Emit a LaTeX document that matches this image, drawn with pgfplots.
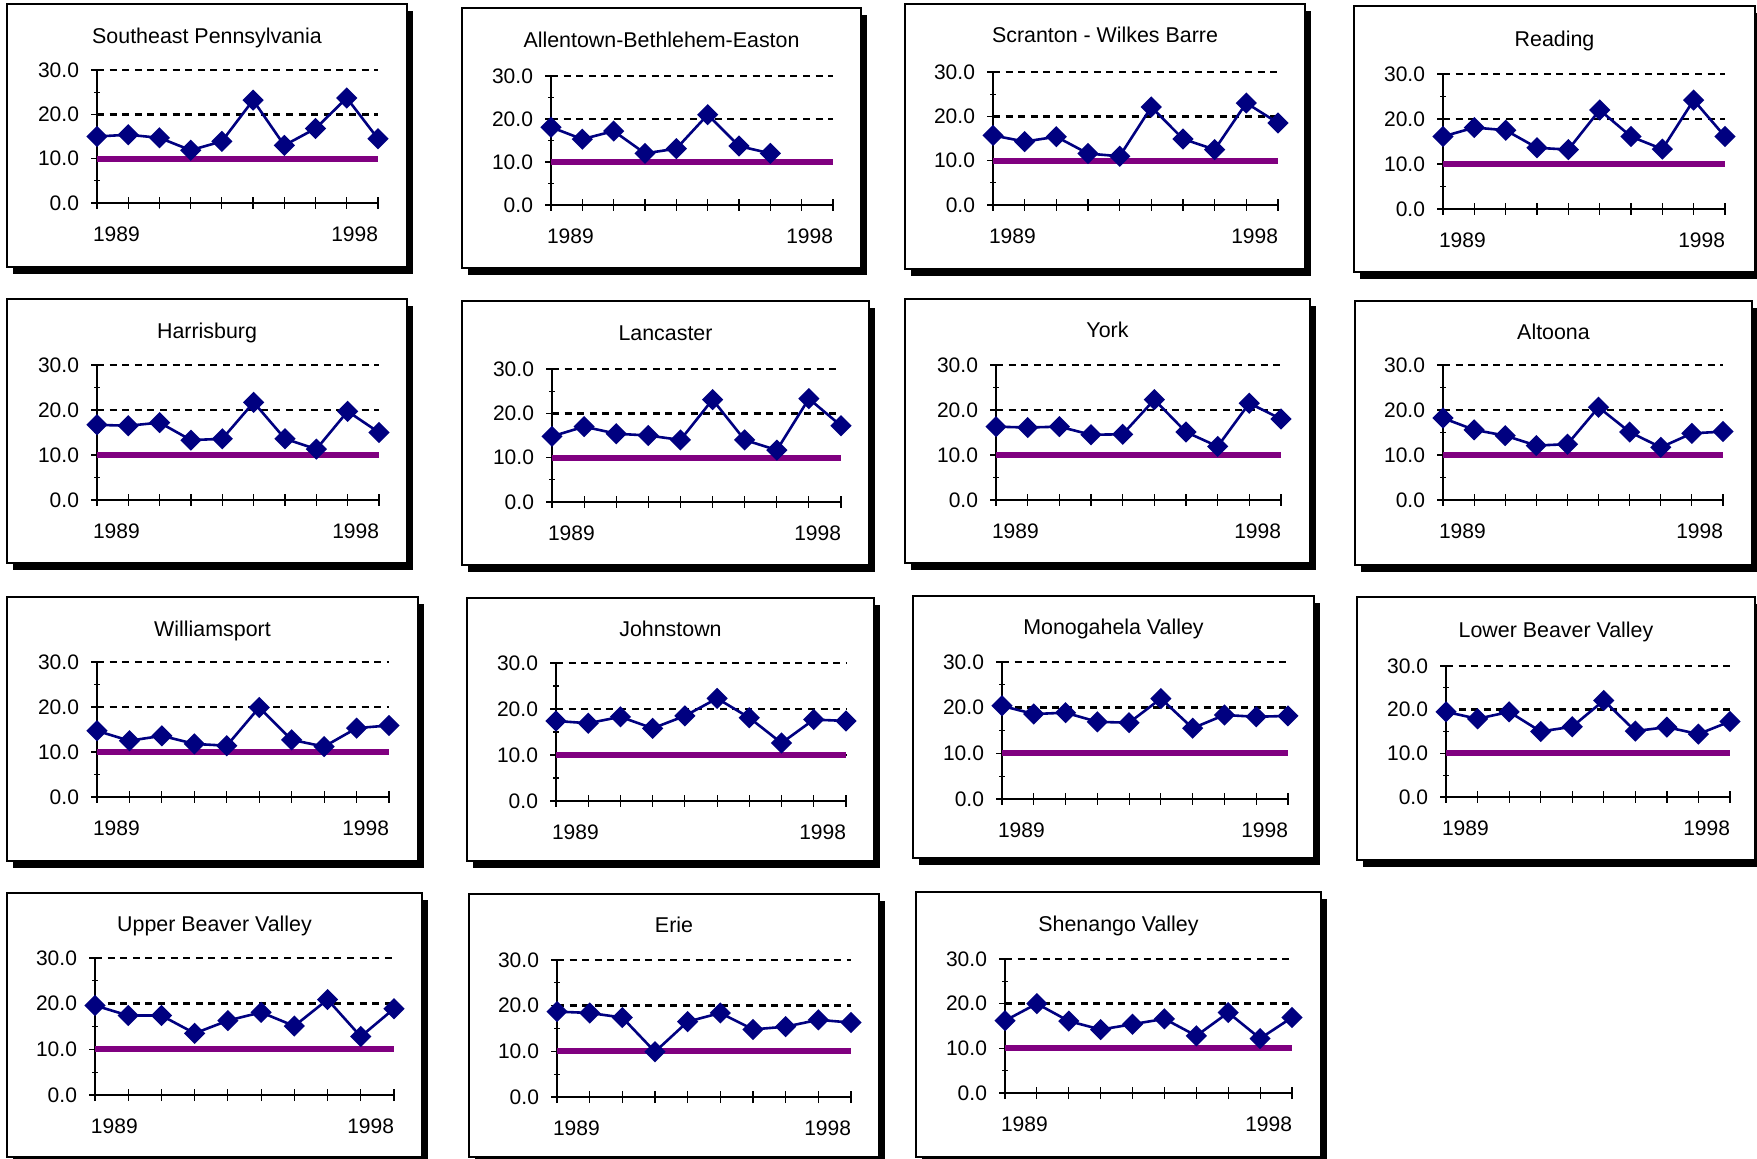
\documentclass[border=0pt]{standalone}
\usepackage{pgfplots}
\pgfplotsset{compat=1.18}
\usepackage{fontspec}
\setmainfont{Liberation Sans}
\definecolor{xlnavy}{RGB}{0,0,128}
\definecolor{xlpurple}{RGB}{128,0,128}
\newcommand\lbl{\fontsize{10.5}{12}\selectfont}
\pgfplotsset{panel/.style={
  scale only axis, enlargelimits=false, clip=false,
  xmin=0, xmax=9, ymin=0, ymax=30,
  axis x line=bottom, axis y line=left,
  axis line style={-, black, line width=0.6pt},
  xtick={0,...,9},
  xticklabels={{\makebox[0pt][l]{\hspace{-2pt}1989}},{},{},{},{},{},{},{},{},{\makebox[0pt][r]{1998}}},
  ytick={0,10,20,30}, minor ytick={5,15,25},
  tick align=center, major tick length=6pt, minor tick length=3pt,
  every tick/.style={black, line width=0.6pt},
  ymajorgrids, major grid style={black, line width=1.3pt, dash pattern=on 3.5pt off 2.8pt},
  tick label style={font=\lbl},
  /pgf/number format/assume math mode=true,
  yticklabel style={anchor=east, xshift=-2.5pt, /pgf/number format/fixed, /pgf/number format/fixed zerofill, /pgf/number format/precision=1},
  xticklabel style={anchor=north, yshift=-5.5pt},
}}
\newcommand\panelgeom[9]{%
  \pgfmathsetmacro\sL{(#1+6)*0.5}\pgfmathsetmacro\sT{-(#2+7)*0.5}%
  \pgfmathsetmacro\sR{(#3+6)*0.5}\pgfmathsetmacro\sB{-(#4+7)*0.5}%
  \pgfmathsetmacro\bL{#1*0.5}\pgfmathsetmacro\bT{-#2*0.5}%
  \pgfmathsetmacro\bR{#3*0.5}\pgfmathsetmacro\bB{-#4*0.5}%
  \fill[black] (\sL pt,\sT pt) rectangle (\sR pt,\sB pt);
  \filldraw[fill=white,draw=black,line width=0.8pt] (\bL pt,\bT pt) rectangle (\bR pt,\bB pt);
  \pgfmathsetmacro\pX{#5*0.5}\pgfmathsetmacro\pY{-#7*0.5}%
  \pgfmathsetmacro\pW{(#6-#5)*0.5}\pgfmathsetmacro\pH{(#7-#8)*0.5}%
  \pgfmathsetmacro\tX{(#1+#3)*0.25}\pgfmathsetmacro\tY{-#9*0.5}%
}
\newcommand\panel[2]{%
  \node[anchor=base,inner sep=0pt,font=\fontsize{10.7}{12}\selectfont] at (\tX pt,\tY pt) {#1};
  \begin{axis}[panel, at={(\pX pt,\pY pt)}, anchor=south west, width=\pW pt, height=\pH pt]
    \addplot[xlpurple, line width=3pt, no marks] coordinates {(0,10) (9,10)};
    \addplot[xlnavy, line width=1.3pt, mark=square*, mark size=3.1pt, mark options={rotate=45, solid}] coordinates {#2};
  \end{axis}%
}
\begin{document}
\begin{tikzpicture}
\useasboundingbox (0,0) rectangle (878.5pt,-579.5pt);
% Row 1
\panelgeom{7}{4}{407}{267}{97}{378}{203}{70}{44}
\panel{Southeast Pennsylvania}{(0,15.0) (1,15.4) (2,14.7) (3,11.9) (4,13.9) (5,23.2) (6,13.0) (7,16.8) (8,23.7) (9,14.5)}
\panelgeom{462}{8}{861}{268}{551}{833}{205}{76}{48}
\panel{Allentown-Bethlehem-Easton}{(0,18.1) (1,15.3) (2,17.2) (3,12.0) (4,13.1) (5,21.0) (6,13.7) (7,12.0)}
\panelgeom{905}{4}{1305}{269}{993}{1278}{205}{72}{43}
\panel{Scranton - Wilkes Barre}{(0,15.7) (1,14.3) (2,15.4) (3,11.6) (4,11.0) (5,22.1) (6,14.9) (7,12.5) (8,23.0) (9,18.5)}
\panelgeom{1354}{6}{1755}{272}{1443}{1725}{209}{74}{47}
\panel{Reading}{(0,16.1) (1,18.1) (2,17.5) (3,13.6) (4,13.2) (5,22.0) (6,16.1) (7,13.3) (8,24.2) (9,16.1)}
% Row 2
\panelgeom{7}{299}{407}{563}{97}{379}{500}{365}{339}
\panel{Harrisburg}{(0,16.7) (1,16.5) (2,17.2) (3,13.3) (4,13.6) (5,21.7) (6,13.6) (7,11.3) (8,19.7) (9,15.0)}
\panelgeom{462}{301}{869}{565}{552}{841}{502}{369}{341}
\panel{Lancaster}{(0,14.8) (1,17.0) (2,15.4) (3,15.0) (4,14.0) (5,23.1) (6,14.0) (7,11.7) (8,23.3) (9,17.2)}
\panelgeom{905}{299}{1310}{563}{996}{1281}{500}{365}{338}
\panel{York}{(0,16.3) (1,16.1) (2,16.3) (3,14.5) (4,14.6) (5,22.3) (6,15.1) (7,11.9) (8,21.5) (9,18.0)}
\panelgeom{1355}{301}{1752}{565}{1443}{1723}{500}{365}{340}
\panel{Altoona}{(0,18.2) (1,15.6) (2,14.3) (3,12.1) (4,12.4) (5,20.6) (6,15.1) (7,11.7) (8,14.8) (9,15.2)}
% Row 3
\panelgeom{7}{597}{418}{861}{97}{389}{797}{662}{637}
\panel{Williamsport}{(0,14.7) (1,12.5) (2,13.6) (3,11.8) (4,11.4) (5,19.9) (6,12.7) (7,11.2) (8,15.3) (9,15.9)}
\panelgeom{467}{598}{874}{861}{556}{846}{801}{663}{637}
\panel{Johnstown}{(0,17.4) (1,16.9) (2,18.3) (3,15.8) (4,18.5) (5,22.3) (6,18.1) (7,12.6) (8,17.7) (9,17.4)}
\panelgeom{913}{596}{1314}{858}{1002}{1288}{799}{662}{635}
\panel{Monogahela Valley}{(0,20.4) (1,18.6) (2,18.9) (3,16.9) (4,16.7) (5,22.0) (6,15.5) (7,18.4) (8,18.0) (9,18.2)}
\panelgeom{1357}{597}{1755}{860}{1446}{1730}{797}{666}{638}
\panel{Lower Beaver Valley}{(0,19.5) (1,17.9) (2,19.5) (3,15.0) (4,16.1) (5,22.1) (6,15.1) (7,16.0) (8,14.4) (9,17.3)}
% Row 4
\panelgeom{7}{893}{422}{1157}{95}{394}{1095}{958}{932}
\panel{Upper Beaver Valley}{(0,19.6) (1,17.4) (2,17.4) (3,13.5) (4,16.3) (5,18.1) (6,15.1) (7,20.9) (8,12.8) (9,18.9)}
\panelgeom{469}{894}{879}{1157}{557}{851}{1097}{960}{933}
\panel{Erie}{(0,18.7) (1,18.4) (2,17.4) (3,9.9) (4,16.5) (5,18.4) (6,14.8) (7,15.4) (8,16.9) (9,16.3)}
\panelgeom{916}{892}{1321}{1157}{1005}{1292}{1093}{959}{932}
\panel{Shenango Valley}{(0,16.2) (1,20.0) (2,16.1) (3,14.2) (4,15.4) (5,16.6) (6,12.8) (7,18.0) (8,12.2) (9,16.9)}
\end{tikzpicture}
\end{document}
